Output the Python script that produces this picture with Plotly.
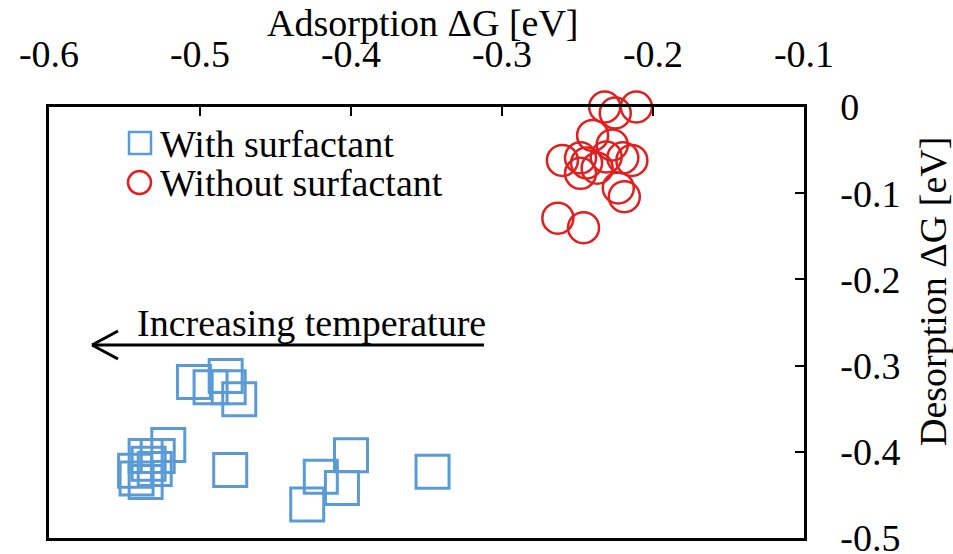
import plotly.graph_objects as go

# Adsorption / desorption free energies [eV]
with_x = [-0.504, -0.483, -0.493, -0.481, -0.474,
          -0.521, -0.528, -0.536, -0.534, -0.543, -0.542, -0.536, -0.530,
          -0.480, -0.400, -0.420, -0.406, -0.429, -0.346]
with_y = [-0.319, -0.312, -0.325, -0.325, -0.339,
          -0.392, -0.405, -0.405, -0.414, -0.422, -0.431, -0.435, -0.420,
          -0.421, -0.404, -0.429, -0.442, -0.461, -0.423]

without_x = [-0.232, -0.211, -0.225, -0.240, -0.227, -0.260, -0.248, -0.244,
             -0.248, -0.237, -0.231, -0.220, -0.214, -0.223, -0.219, -0.263, -0.246]
without_y = [0.000, 0.000, -0.007, -0.033, -0.044, -0.062, -0.059, -0.065,
             -0.077, -0.071, -0.058, -0.059, -0.062, -0.094, -0.104, -0.129, -0.140]

x_ticks = [-0.6, -0.5, -0.4, -0.3, -0.2, -0.1]
x_tick_text = ["-0.6", "-0.5", "-0.4", "-0.3", "-0.2", "-0.1"]
y_ticks = [0, -0.1, -0.2, -0.3, -0.4, -0.5]
y_tick_text = ["0", "-0.1", "-0.2", "-0.3", "-0.4", "-0.5"]

series_names = ["With surfactant", "Without surfactant"]
x_title = "Adsorption ΔG [eV]"
y_title = "Desorption ΔG [eV]"
note_text = "Increasing temperature"

BLUE = "#5B9BD5"
RED = "#E21E1E"
FONT = "Liberation Serif"
FS = 38

W, H = 953, 554
L, R, T, B = 49, 804, 107, 538


def px(x):
    return (x - L) / (R - L)


def py(y):
    return (B - y) / (B - T)


fig = go.Figure()
fig.add_trace(go.Scatter(
    x=with_x, y=with_y, mode="markers", name=series_names[0],
    marker=dict(symbol="square-open", size=33, color=BLUE,
                line=dict(width=3, color=BLUE)),
    cliponaxis=False, showlegend=False))
fig.add_trace(go.Scatter(
    x=without_x, y=without_y, mode="markers", name=series_names[1],
    marker=dict(symbol="circle-open", size=31, color=RED,
                line=dict(width=2.5, color=RED)),
    cliponaxis=False, showlegend=False))

axis_common = dict(showgrid=False, zeroline=False, showline=True, mirror=True,
                   linecolor="black", linewidth=2.5, ticks="inside",
                   tickcolor="black", tickwidth=2, ticklen=9,
                   ticklabeloverflow="allow", automargin=False,
                   tickfont=dict(family=FONT, size=FS, color="black"))

fig.update_xaxes(range=[-0.6, -0.1], side="top", tickvals=x_ticks,
                 ticktext=x_tick_text, ticklabelstandoff=22, **axis_common)
fig.update_yaxes(range=[-0.5, 0], side="right", tickvals=y_ticks,
                 ticktext=y_tick_text, ticklabelstandoff=26, **axis_common)

annotations = [
    dict(text=x_title, x=px(423), y=py(23), xref="paper", yref="paper",
         showarrow=False, xanchor="center", yanchor="middle",
         font=dict(family=FONT, size=FS, color="black")),
    dict(text=y_title, x=px(933), y=py(292), xref="paper", yref="paper",
         showarrow=False, xanchor="center", yanchor="middle", textangle=-90,
         font=dict(family=FONT, size=FS, color="black")),
    dict(text=note_text, x=px(488), y=py(323), xref="paper", yref="paper",
         showarrow=False, xanchor="right", yanchor="middle",
         font=dict(family=FONT, size=FS, color="black")),
    dict(text=series_names[0], x=px(158), y=py(144), xref="paper", yref="paper",
         showarrow=False, xanchor="left", yanchor="middle",
         font=dict(family=FONT, size=FS, color="black")),
    dict(text=series_names[1], x=px(158), y=py(183), xref="paper", yref="paper",
         showarrow=False, xanchor="left", yanchor="middle",
         font=dict(family=FONT, size=FS, color="black")),
]

shapes = [
    # legend symbols
    dict(type="rect", xref="paper", yref="paper",
         x0=px(129), x1=px(151), y0=py(132), y1=py(154),
         line=dict(color=BLUE, width=2.5)),
    dict(type="circle", xref="paper", yref="paper",
         x0=px(128), x1=px(151), y0=py(171), y1=py(194),
         line=dict(color=RED, width=2.5)),
    # temperature arrow
    dict(type="line", xref="paper", yref="paper",
         x0=px(92), x1=px(484), y0=py(345), y1=py(345),
         line=dict(color="black", width=3)),
    dict(type="line", xref="paper", yref="paper",
         x0=px(92), x1=px(118), y0=py(345), y1=py(331),
         line=dict(color="black", width=3)),
    dict(type="line", xref="paper", yref="paper",
         x0=px(92), x1=px(118), y0=py(345), y1=py(359),
         line=dict(color="black", width=3)),
]

fig.update_layout(
    width=W, height=H,
    margin=dict(l=L, r=W - R, t=T, b=H - B, autoexpand=False),
    paper_bgcolor="white", plot_bgcolor="white",
    font=dict(family=FONT, size=FS, color="black"),
    annotations=annotations, shapes=shapes,
    showlegend=False,
)

fig.write_html("out.html")
